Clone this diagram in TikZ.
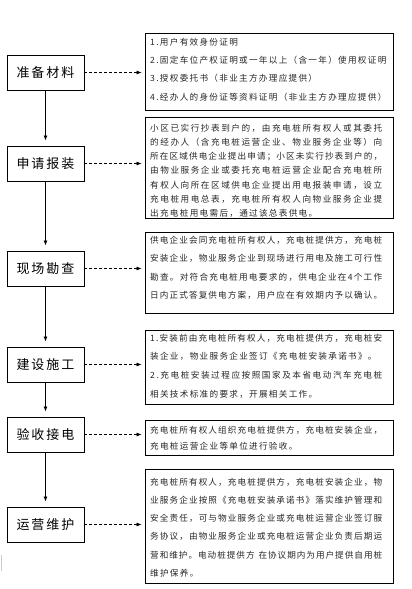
\documentclass[tikz,border=0pt]{standalone}
\usepackage{fontspec}
\setmainfont{Noto Sans CJK SC}
\usetikzlibrary{arrows.meta}
\newdimen\cjkgap
\def\spx#1{\ifx#1\relax\else#1\hskip\cjkgap plus 1fil\relax\expandafter\spx\fi}
\newcommand\jl[1]{\hbox to 232pt{\cjkgap=0pt\spx#1\relax\unskip}}
\newcommand\ntl[1]{\hbox{\cjkgap=1.3pt\spx#1\relax\unskip}}
\newcommand\tb[2]{\vbox{\baselineskip=#1pt\relax #2}}
\newcommand\lab[1]{\hbox{\cjkgap=2pt\spx#1\relax\unskip}}
\tikzset{
  lbox/.style={draw, line width=0.9pt, minimum width=77pt, minimum height=35pt, inner sep=0pt,
    font=\fontsize{13}{13}\selectfont},
  rbox/.style={draw, line width=0.8pt, minimum width=248pt, inner sep=0pt},
  rtext/.style={anchor=west, inner sep=0pt, text=black!85, font=\fontsize{8.6}{10}\selectfont},
  varrow/.style={line width=0.8pt, -{Latex[length=5pt,width=4pt]}, shorten >=5pt},
  harrow/.style={line width=0.7pt, dash pattern=on 3pt off 2pt, -{Latex[length=5pt,width=4pt]}, shorten >=3pt}
}
\begin{document}
\begin{tikzpicture}[x=1pt,y=-1pt]
\useasboundingbox (0,0) rectangle (412,589);
% left column
\node[lbox] (b1) at (45.5,72.5) {\lab{准备材料}};
\node[lbox] (b2) at (45.5,163.5) {\lab{申请报装}};
\node[lbox] (b3) at (45.5,268.5) {\lab{现场勘查}};
\node[lbox] (b4) at (45.5,364.5) {\lab{建设施工}};
\node[lbox] (b5) at (45.5,434.5) {\lab{验收接电}};
\node[lbox] (b6) at (45.5,524.5) {\lab{运营维护}};
% right boxes
\node[rbox, minimum height=77pt] (r1) at (269,71.5) {};
\node[rbox, minimum height=101pt] (r2) at (269,167.5) {};
\node[rbox, minimum height=81pt] (r3) at (269,272.5) {};
\node[rbox, minimum height=74pt] (r4) at (269,367) {};
\node[rbox, minimum height=35pt] (r5) at (269,437.5) {};
\node[rbox, minimum height=114pt] (r6) at (269,526) {};
% texts
\node[rtext] (t1) at (150,69.5) {\tb{18.3}{%
\ntl{1.用户有效身份证明}
\ntl{2.固定车位产权证明或一年以上（含一年）使用权证明}
\ntl{3.授权委托书（非业主方办理应提供）}
\ntl{4.经办人的身份证等资料证明（非业主方办理应提供）}}};
\node[rtext] (t2) at (150,170.8) {\tb{14.2}{%
\jl{小区已实行抄表到户的，由充电桩所有权人或其委托}
\jl{的经办人（含充电桩运营企业、物业服务企业等）向}
\jl{所在区域供电企业提出申请；小区未实行抄表到户的，}
\jl{由物业服务企业或委托充电桩运营企业配合充电桩所}
\jl{有权人向所在区域供电企业提出用电报装申请，设立}
\jl{充电桩用电总表，充电桩所有权人向物业服务企业提}
\ntl{出充电桩用电需后，通过该总表供电。}}};
\node[rtext] (t3) at (150,268) {\tb{18.5}{%
\jl{供电企业会同充电桩所有权人，充电桩提供方，充电桩}
\jl{安装企业，物业服务企业到现场进行用电及施工可行性}
\jl{勘查。对符合充电桩用电要求的，供电企业在4个工作}
\jl{日内正式答复供电方案，用户应在有效期内予以确认。}}};
\node[rtext] (t4) at (150,366) {\tb{18.6}{%
\jl{1.安装前由充电桩所有权人，充电桩提供方，充电桩安}
\ntl{装企业，物业服务企业签订《充电桩安装承诺书》。}
\jl{2.充电桩安装过程应按照国家及本省电动汽车充电桩}
\ntl{相关技术标准的要求，开展相关工作。}}};
\node[rtext] (t5) at (150,438) {\tb{16}{%
\jl{充电桩所有权人组织充电桩提供方，充电桩安装企业，}
\ntl{充电桩运营企业等单位进行验收。}}};
\node[rtext] (t6) at (150,527.5) {\tb{18.2}{%
\jl{充电桩所有权人，充电桩提供方，充电桩安装企业，物}
\jl{业服务企业按照《充电桩安装承诺书》落实维护管理和}
\jl{安全责任，可与物业服务企业或充电桩运营企业签订服}
\jl{务协议，由物业服务企业或充电桩运营企业负责后期运}
\jl{营和维护。电动桩提供方~在协议期内为用户提供自用桩}
\ntl{维护保养。}}};
% vertical arrows
\draw[varrow] (b1.south) -- (b2.north);
\draw[varrow] (b2.south) -- (b3.north);
\draw[varrow] (b3.south) -- (b4.north);
\draw[varrow] (b4.south) -- (b5.north);
\draw[varrow] (b5.south) -- (b6.north);
% dashed arrows
\draw[harrow] (b1.east) -- (b1.east -| r1.west);
\draw[harrow] (b2.east) -- (b2.east -| r2.west);
\draw[harrow] (b3.east) -- (b3.east -| r3.west);
\draw[harrow] (b4.east) -- (b4.east -| r4.west);
\draw[harrow] (b5.east) -- (b5.east -| r5.west);
\draw[harrow] (b6.east) -- (b6.east -| r6.west);
% small gray mark
\draw[black!20, line width=1pt] (1.5,555) -- (1.5,571);
\end{tikzpicture}
\end{document}
